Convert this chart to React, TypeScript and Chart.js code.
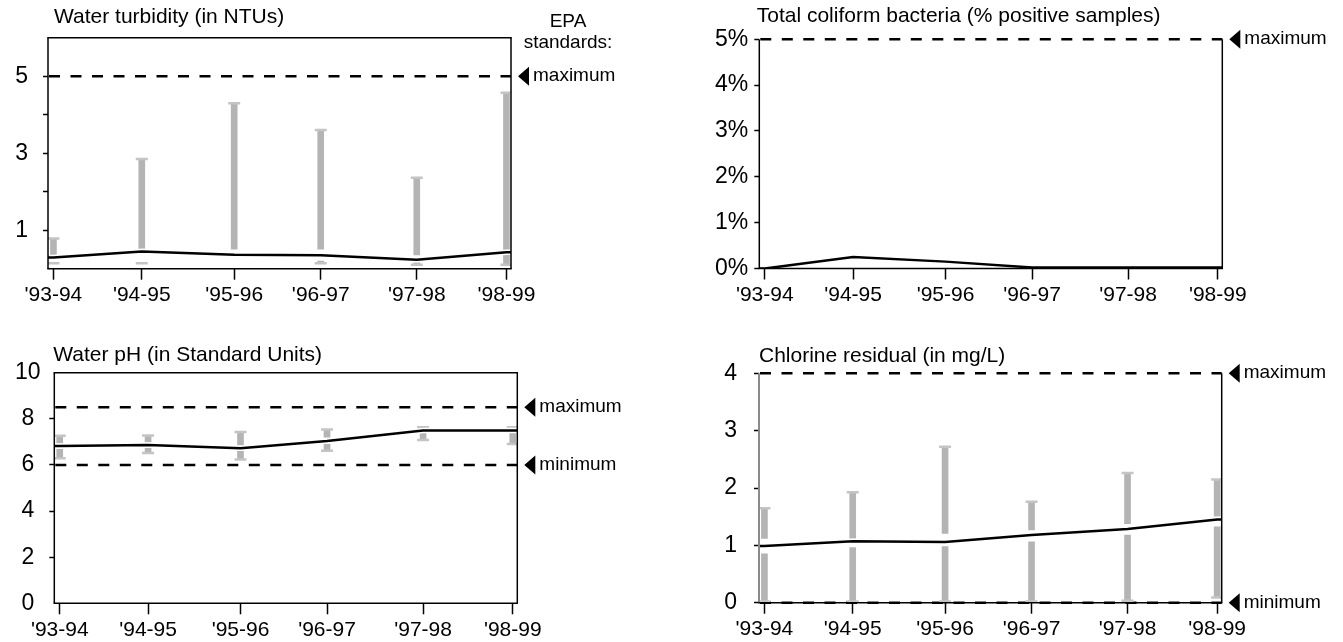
import React, { useEffect, useRef } from 'react';
import { Chart, registerables } from 'chart.js';

Chart.register(...registerables);

const FONT = "'Liberation Sans', Arial, Helvetica, sans-serif";

// ---------------- Data ----------------
const yearLabels = ["'93-94", "'94-95", "'95-96", "'96-97", "'97-98", "'98-99"];
// position of each sampling year on the time axis (years after '93-94)
const yearPositions = [0, 0.975, 1.995, 2.95, 4.01, 5];

// Water turbidity (NTU)
const turbidityTitle = 'Water turbidity (in NTUs)';
const turbidityAverage = [0.29, 0.445, 0.36, 0.35, 0.23, 0.43];
const turbidityHigh = [0.785, 2.85, 4.3, 3.6, 2.36, 4.57];
const turbidityUpperStart = [0.36, 0.53, 0.51, 0.51, 0.36, 0.49];
const turbidityLowerEnd = [0.14, 0.14, 0.36, 0.2, 0.16, 0.37];
const turbidityLow = [0.14, 0.14, 0.36, 0.14, 0.1, 0.1];
const turbidityTicks = [1, 2, 3, 4, 5];
const turbidityTickLabels = ['1', '', '3', '', '5'];
const turbidityStandardValues = [5];
const turbidityStandardLabels = ['maximum'];

// Total coliform bacteria (% positive samples)
const coliformTitle = 'Total coliform bacteria (% positive samples)';
const coliformAverage = [0, 0.25, 0.15, 0.02, 0.02, 0.02];
const coliformTicks = [0, 1, 2, 3, 4, 5];
const coliformTickLabels = ['0%', '1%', '2%', '3%', '4%', '5%'];
const coliformStandardValues = [5];
const coliformStandardLabels = ['maximum'];

// Water pH
const phTitle = 'Water pH (in Standard Units)';
const phAverage = [6.82, 6.86, 6.72, 7.04, 7.49, 7.49];
const phHigh = [7.27, 7.28, 7.43, 7.54, 7.63, 7.63];
const phUpperStart = [6.94, 7.0, 6.86, 7.2, 7.6, 7.6];
const phLowerEnd = [6.68, 6.72, 6.6, 6.91, 7.4, 7.37];
const phLow = [6.29, 6.52, 6.24, 6.61, 7.08, 6.91];
const phTicks = [0, 2, 4, 6, 8, 10];
const phTickLabels = ['0', '2', '4', '6', '8', '10'];
const phStandardValues = [8.5, 6];
const phStandardLabels = ['maximum', 'minimum'];

// Chlorine residual (mg/L)
const chlorineTitle = 'Chlorine residual (in mg/L)';
const chlorineAverage = [0.99, 1.07, 1.06, 1.18, 1.285, 1.45];
const chlorineHigh = [1.646, 1.925, 2.72, 1.76, 2.26, 2.15];
const chlorineUpperStart = [1.12, 1.12, 1.21, 1.27, 1.38, 1.51];
const chlorineLowerEnd = [0.85, 0.96, 0.98, 1.06, 1.18, 1.325];
const chlorineLow = [0.02, 0.02, 0.02, 0.02, 0.035, 0.09];
const chlorineTicks = [0, 1, 2, 3, 4];
const chlorineTickLabels = ['0', '1', '2', '3', '4'];
const chlorineStandardValues = [4, 0];
const chlorineStandardLabels = ['maximum', 'minimum'];

// ---------------- Styling / layout ----------------
const X_MIN = -0.06;
const X_MAX = 5.05;
const BAR_COLOR = '#b4b4b4';
const CAP_COLOR = '#c4c4c4';

type Panel = {
  left: number; top: number; w: number; h: number;
  padTop: number; padRight: number; yWidth: number; xHeight: number;
  yPad: number; yAlign: 'near' | 'center';
  titleDx: number; titleBaseline: number;
  frameTop: boolean; leftColor: string; leftWidth: number;
  hiddenTickMarks: number[];
  epaNote: boolean;
  title: string;
  yMin: number; yMax: number;
  yTicks: number[]; yTickLabels: string[];
  average: number[];
  high?: number[]; upperStart?: number[]; lowerEnd?: number[]; low?: number[];
  standardValues: number[]; standardLabels: string[];
};

const panels: Panel[] = [
  {
    left: 0, top: 0, w: 660, h: 320,
    padTop: 37.7, padRight: 149, yWidth: 48, xHeight: 51.3,
    yPad: 15, yAlign: 'near', titleDx: 6, titleBaseline: 23,
    frameTop: true, leftColor: '#000', leftWidth: 1.5, hiddenTickMarks: [], epaNote: true,
    title: turbidityTitle, yMin: 0, yMax: 6,
    yTicks: turbidityTicks, yTickLabels: turbidityTickLabels,
    average: turbidityAverage, high: turbidityHigh, upperStart: turbidityUpperStart,
    lowerEnd: turbidityLowerEnd, low: turbidityLow,
    standardValues: turbidityStandardValues, standardLabels: turbidityStandardLabels,
  },
  {
    left: 660, top: 0, w: 683, h: 320,
    padTop: 39.3, padRight: 120.7, yWidth: 99.3, xHeight: 51.5,
    yPad: 6, yAlign: 'near', titleDx: -2.6, titleBaseline: 21.7,
    frameTop: false, leftColor: '#000', leftWidth: 1.5, hiddenTickMarks: [], epaNote: false,
    title: coliformTitle, yMin: 0, yMax: 5,
    yTicks: coliformTicks, yTickLabels: coliformTickLabels,
    average: coliformAverage,
    standardValues: coliformStandardValues, standardLabels: coliformStandardLabels,
  },
  {
    left: 0, top: 320, w: 660, h: 322,
    padTop: 52.7, padRight: 142.7, yWidth: 54.3, xHeight: 38.7,
    yPad: 8.7, yAlign: 'center', titleDx: -1, titleBaseline: 40.7,
    frameTop: true, leftColor: '#000', leftWidth: 1.5, hiddenTickMarks: [0, 10], epaNote: false,
    title: phTitle, yMin: 0, yMax: 10,
    yTicks: phTicks, yTickLabels: phTickLabels,
    average: phAverage, high: phHigh, upperStart: phUpperStart,
    lowerEnd: phLowerEnd, low: phLow,
    standardValues: phStandardValues, standardLabels: phStandardLabels,
  },
  {
    left: 660, top: 320, w: 683, h: 322,
    padTop: 53.3, padRight: 121.3, yWidth: 99, xHeight: 39.3,
    yPad: 17, yAlign: 'near', titleDx: 0, titleBaseline: 41.7,
    frameTop: false, leftColor: '#8a8a8a', leftWidth: 2, hiddenTickMarks: [], epaNote: false,
    title: chlorineTitle, yMin: 0, yMax: 4,
    yTicks: chlorineTicks, yTickLabels: chlorineTickLabels,
    average: chlorineAverage, high: chlorineHigh, upperStart: chlorineUpperStart,
    lowerEnd: chlorineLowerEnd, low: chlorineLow,
    standardValues: chlorineStandardValues, standardLabels: chlorineStandardLabels,
  },
];

function makeDecorPlugin(p: Panel) {
  return {
    id: 'panelDecor',
    beforeDatasetsDraw(chart: any) {
      const { ctx, chartArea: a } = chart;
      const ys = chart.scales.y;
      ctx.save();
      ctx.strokeStyle = '#000';
      ctx.lineWidth = 2.5;
      ctx.setLineDash([11, 10.5]);
      p.standardValues.forEach((v) => {
        const py = ys.getPixelForValue(v);
        ctx.beginPath();
        ctx.moveTo(a.left + 1, py);
        ctx.lineTo(a.right, py);
        ctx.stroke();
      });
      ctx.restore();
    },
    afterDatasetsDraw(chart: any) {
      const { ctx, chartArea: a } = chart;
      ctx.save();
      const seg = (x1: number, y1: number, x2: number, y2: number, color: string, w: number) => {
        ctx.strokeStyle = color;
        ctx.lineWidth = w;
        ctx.beginPath();
        ctx.moveTo(x1, y1);
        ctx.lineTo(x2, y2);
        ctx.stroke();
      };
      seg(a.left, a.top, a.left, a.bottom, p.leftColor, p.leftWidth);
      seg(a.left - 0.75, a.bottom, a.right + 0.75, a.bottom, '#000', 1.5);
      seg(a.right, a.top, a.right, a.bottom, '#000', 1.5);
      if (p.frameTop) seg(a.left - 0.75, a.top, a.right + 0.75, a.top, '#000', 1.5);
      ctx.restore();
    },
    afterDraw(chart: any) {
      const { ctx, chartArea: a } = chart;
      const ys = chart.scales.y;
      ctx.save();
      ctx.fillStyle = '#000';
      // title
      ctx.font = `21px ${FONT}`;
      ctx.textAlign = 'left';
      ctx.textBaseline = 'alphabetic';
      ctx.fillText(p.title, a.left + p.titleDx, p.titleBaseline);
      // standards markers
      const tipX = a.right + 7;
      ctx.font = `19px ${FONT}`;
      p.standardValues.forEach((v, i) => {
        const py = ys.getPixelForValue(v);
        ctx.beginPath();
        ctx.moveTo(tipX, py);
        ctx.lineTo(tipX + 11, py - 9.5);
        ctx.lineTo(tipX + 11, py + 9.5);
        ctx.closePath();
        ctx.fill();
        ctx.textAlign = 'left';
        ctx.fillText(p.standardLabels[i], tipX + 15, py + 5);
        if (p.epaNote && i === 0) {
          ctx.textAlign = 'center';
          ctx.fillText('EPA', tipX + 50, py - 49);
          ctx.fillText('standards:', tipX + 50, py - 28);
        }
      });
      ctx.restore();
    },
  };
}

function buildConfig(p: Panel): any {
  const xs = yearPositions;
  const avg = p.average;
  const lineData = [
    { x: X_MIN, y: avg[0] },
    ...xs.map((x, i) => ({ x, y: avg[i] })),
    { x: X_MAX, y: avg[avg.length - 1] },
  ];
  const datasets: any[] = [
    {
      type: 'line', data: lineData, borderColor: '#000', borderWidth: 2.5,
      pointRadius: 0, tension: 0, order: 0,
    },
    {
      type: 'line', data: lineData, borderColor: '#fff', borderWidth: 5.5,
      pointRadius: 0, tension: 0, order: 1,
    },
  ];
  if (p.high && p.upperStart && p.lowerEnd && p.low) {
    const high = p.high, upper = p.upperStart, lowerEnd = p.lowerEnd, low = p.low;
    datasets.push({
      type: 'bar', data: xs.map((x, i) => ({ x, y: [upper[i], high[i]] })),
      backgroundColor: BAR_COLOR, borderWidth: 0, barThickness: 6, grouped: false, order: 4,
    });
    datasets.push({
      type: 'bar', data: xs.map((x, i) => ({ x, y: [low[i], lowerEnd[i]] })),
      backgroundColor: BAR_COLOR, borderWidth: 0, barThickness: 6, grouped: false, order: 4,
    });
    datasets.push({
      type: 'scatter',
      data: [...xs.map((x, i) => ({ x, y: high[i] })), ...xs.map((x, i) => ({ x, y: low[i] }))],
      pointStyle: 'line', pointRadius: 6, pointBorderWidth: 2.5,
      borderColor: CAP_COLOR, pointBorderColor: CAP_COLOR, order: 3,
    });
  }
  return {
    type: 'bar',
    data: { datasets },
    plugins: [makeDecorPlugin(p)],
    options: {
      responsive: false,
      animation: false,
      events: [],
      layout: { padding: { left: 0, right: p.padRight, top: p.padTop, bottom: 0 } },
      plugins: { legend: { display: false }, tooltip: { enabled: false }, title: { display: false } },
      scales: {
        x: {
          type: 'linear', min: X_MIN, max: X_MAX, offset: false,
          afterBuildTicks: (s: any) => { s.ticks = yearPositions.map((v) => ({ value: v })); },
          afterFit: (s: any) => { s.height = p.xHeight; },
          grid: {
            drawOnChartArea: false, drawTicks: true, tickLength: 11, tickWidth: 1.5,
            tickColor: '#000', offset: false,
          },
          border: { display: false },
          ticks: {
            autoSkip: false, maxRotation: 0, minRotation: 0, padding: 3, color: '#000',
            font: { family: FONT, size: 21 },
            callback: (_v: any, i: number) => yearLabels[i],
          },
        },
        y: {
          type: 'linear', min: p.yMin, max: p.yMax,
          afterBuildTicks: (s: any) => { s.ticks = p.yTicks.map((v) => ({ value: v })); },
          afterFit: (s: any) => { s.width = p.yWidth; },
          grid: {
            drawOnChartArea: false, drawTicks: true, tickLength: 5, tickWidth: 1.5,
            tickColor: (c: any) =>
              c.tick && p.hiddenTickMarks.includes(c.tick.value) ? 'rgba(0,0,0,0)' : '#000',
          },
          border: { display: false },
          ticks: {
            autoSkip: false, padding: p.yPad, crossAlign: p.yAlign, color: '#000',
            font: { family: FONT, size: 23 },
            callback: (_v: any, i: number) => p.yTickLabels[i],
          },
        },
      },
    },
  };
}

function PanelChart({ panel }: { panel: Panel }) {
  const ref = useRef<HTMLCanvasElement>(null);
  useEffect(() => {
    if (!ref.current) return;
    const chart = new Chart(ref.current, buildConfig(panel));
    return () => chart.destroy();
  }, [panel]);
  return (
    <canvas
      ref={ref}
      width={panel.w}
      height={panel.h}
      style={{ position: 'absolute', left: panel.left, top: panel.top, width: panel.w, height: panel.h }}
    />
  );
}

export default function App() {
  return (
    <div style={{ position: 'absolute', left: 0, top: 0, width: 1343, height: 642, background: '#fff', overflow: 'hidden' }}>
      {panels.map((p, i) => (
        <PanelChart key={i} panel={p} />
      ))}
    </div>
  );
}
